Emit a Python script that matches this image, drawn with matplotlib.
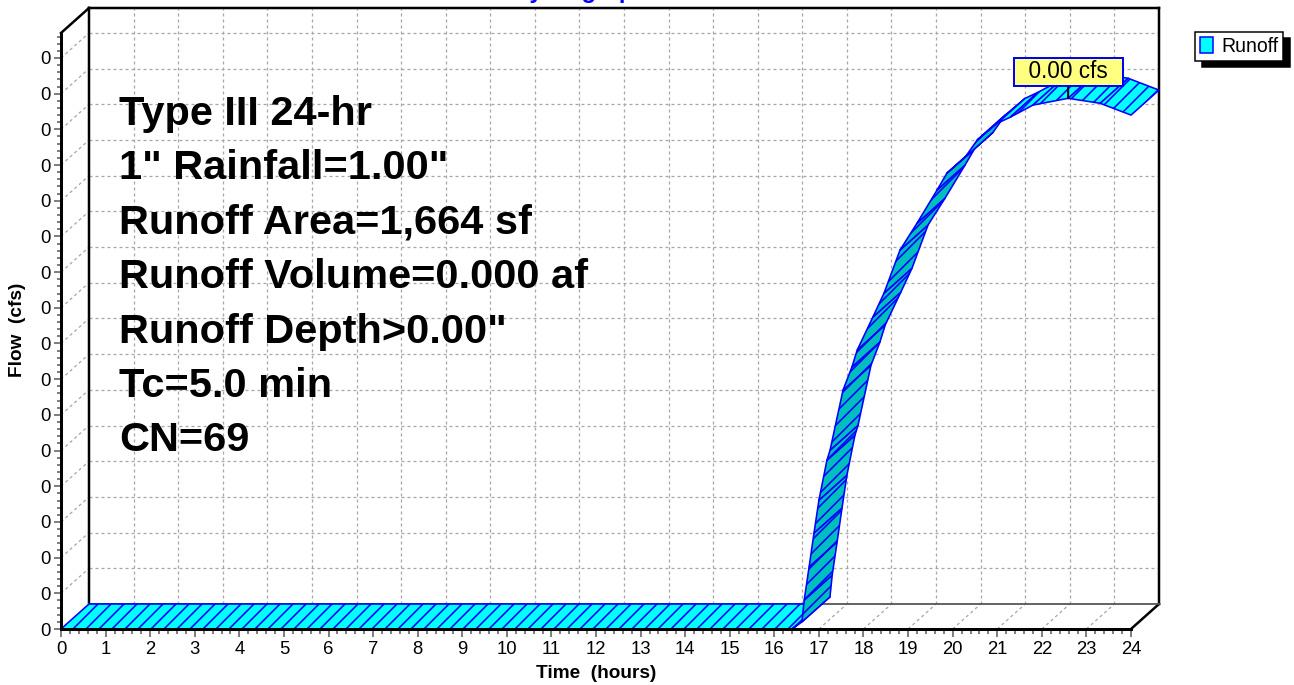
import matplotlib
matplotlib.use("Agg")
import matplotlib.pyplot as plt
from matplotlib.patches import Polygon, Patch
from matplotlib.ticker import MultipleLocator, FuncFormatter

DPI = 78
W, H = 1294, 685


def pt(px):
    # pixel size -> points at this dpi
    return px * 72.0 / DPI


plt.rcParams["font.family"] = ["Liberation Sans", "DejaVu Sans"]
plt.rcParams["hatch.linewidth"] = pt(1.6)
plt.rcParams["lines.scale_dashes"] = False

# Runoff hydrograph (front edge of the ribbon)
time_hr = [0.0, 16.40, 16.62, 16.67, 16.78, 16.89, 17.00, 17.18, 17.25, 17.54,
           17.74, 17.86, 18.21, 18.46, 18.82, 19.20, 19.65, 19.87, 20.28, 20.55,
           21.00, 21.29, 21.80, 22.59, 23.31, 24.00]
flow_cfs = [0.0, 0.0, 0.20e-5, 0.81e-5, 1.74e-5, 2.69e-5, 3.61e-5, 4.73e-5,
            5.01e-5, 6.69e-5, 7.34e-5, 7.82e-5, 8.74e-5, 9.41e-5, 10.62e-5,
            11.37e-5, 12.30e-5, 12.77e-5, 13.22e-5, 13.70e-5, 14.17e-5,
            14.34e-5, 14.68e-5, 14.87e-5, 14.73e-5, 14.40e-5]

x_ticks = list(range(0, 25))
y_ticks = [k * 1e-5 for k in range(0, 17)]
y_top = 16.7e-5

info_lines = [
    "Type III 24-hr",
    '1" Rainfall=1.00"',
    "Runoff Area=1,664 sf",
    "Runoff Volume=0.000 af",
    'Runoff Depth>0.00"',
    "Tc=5.0 min",
    "CN=69",
]

CYAN = "#00FFFF"
DARK = "#00BEBE"
BLUE = "#0000FF"
GRID = "#A8A8A8"

fig = plt.figure(figsize=(W / DPI, H / DPI), dpi=DPI)
ax = fig.add_axes([61 / W, (H - 629) / H, 1070 / W, 596 / H])
ax.set_xlim(0, 24)
ax.set_ylim(0, y_top)
ax.patch.set_alpha(0)

# depth offset of the pseudo 3d box (28 px right, 25 px up)
PXH = 1070 / 24
PXF = 596 / y_top
DX = 28 / PXH
DY = 25 / PXF

gkw = dict(color=GRID, lw=pt(1.3), clip_on=False, zorder=1, dashes=(pt(3), pt(3)))

# back wall grid
for t in x_ticks[1:-1]:
    ax.plot([t + DX, t + DX], [DY, y_top + DY], **gkw)
    ax.plot([t, t + DX], [0, DY], **gkw)  # floor
for v in y_ticks[1:]:
    ax.plot([DX, 24 + DX], [v + DY, v + DY], **gkw)
    ax.plot([0, DX], [v, v + DY], **gkw)  # left wall

# back box edges
bkw = dict(color="black", clip_on=False, zorder=2, solid_capstyle="projecting")
ax.plot([DX, 24 + DX], [y_top + DY, y_top + DY], lw=pt(2.5), **bkw)
ax.plot([DX, DX], [DY, y_top + DY], lw=pt(2.5), **bkw)
ax.plot([24 + DX, 24 + DX], [DY, y_top + DY], lw=pt(2.5), **bkw)
ax.plot([0, DX], [y_top, y_top + DY], lw=pt(2.5), **bkw)
ax.plot([24, 24 + DX], [0, DY], lw=pt(2.5), **bkw)
ax.plot([DX, 24 + DX], [DY, DY], color="#555555", lw=pt(1.8), clip_on=False, zorder=2)

# ribbon made of quads, darker where the underside faces us
for i in range(len(time_hr) - 1):
    t0, t1 = time_hr[i], time_hr[i + 1]
    f0, f1 = flow_cfs[i], flow_cfs[i + 1]
    sx, sy = (t1 - t0) * PXH, (f1 - f0) * PXF
    cross = sx * 25 - sy * 28
    quad = [(t0, f0), (t1, f1), (t1 + DX, f1 + DY), (t0 + DX, f0 + DY)]
    ax.add_patch(Polygon(quad, closed=True, facecolor=CYAN if cross >= 0 else DARK,
                         edgecolor=BLUE, lw=pt(1.6), hatch="//", clip_on=False,
                         zorder=3, joinstyle="round"))

# front axes
for side in ("top", "right"):
    ax.spines[side].set_visible(False)
for side in ("left", "bottom"):
    ax.spines[side].set_linewidth(pt(3))
    ax.spines[side].set_color("black")
    ax.spines[side].set_zorder(4)

ax.set_xticks(x_ticks)
ax.xaxis.set_minor_locator(MultipleLocator(0.2))
ax.set_yticks(y_ticks)
ax.yaxis.set_minor_locator(MultipleLocator(0.2e-5))
ax.yaxis.set_major_formatter(FuncFormatter(lambda v, p: f"{v:.0f}"))
ax.tick_params(which="both", direction="out", color="#808080", width=pt(2),
               labelsize=pt(18.5), pad=pt(3.5))
ax.tick_params(axis="x", which="major", length=pt(8))
ax.tick_params(axis="x", which="minor", length=pt(5))
ax.tick_params(axis="y", which="major", length=pt(7))
ax.tick_params(axis="y", which="minor", length=pt(4))

fig.text(596 / W, 1 - 673 / H, "Time  (hours)", ha="center", va="center",
         fontsize=pt(19), fontweight="bold")
fig.text(18 / W, 1 - 330 / H, "Flow  (cfs)", ha="center", va="center",
         rotation=90, fontsize=pt(19), fontweight="bold")
fig.text(580 / W, 1 + 2 / H, "Hydrograph", ha="center", va="baseline",
         fontsize=pt(24), fontweight="bold", color=BLUE)

for i, line in enumerate(info_lines):
    ax.text((119 - 61) / 1070, (629 - (125 + 54.4 * i)) / 596, line,
            transform=ax.transAxes, fontsize=pt(41.5), fontweight="bold",
            ha="left", va="baseline", zorder=5)

# peak callout
i_pk = flow_cfs.index(max(flow_cfs))
ax.annotate(f"  {flow_cfs[i_pk]:.2f} cfs  ", xy=(time_hr[i_pk], flow_cfs[i_pk]),
            xytext=(0, pt(26.5)), textcoords="offset points", ha="center",
            va="center", fontsize=pt(22.5), zorder=6, annotation_clip=False,
            bbox=dict(boxstyle="square,pad=0.1", fc="#FFFF80", ec=BLUE, lw=pt(2)),
            arrowprops=dict(arrowstyle="-", color="black", lw=pt(2),
                            shrinkA=0, shrinkB=0))

leg = ax.legend(handles=[Patch(facecolor=CYAN, edgecolor=BLUE, lw=pt(1.5), label="Runoff")],
                loc="upper left", bbox_to_anchor=(1195 / W, 1 - 32 / H),
                bbox_transform=fig.transFigure, fancybox=False,
                shadow={"ox": pt(7), "oy": -pt(6), "facecolor": "black",
                        "edgecolor": "black", "alpha": 1},
                edgecolor="black", framealpha=1, fontsize=pt(19.5),
                handlelength=0.65, handleheight=0.9, borderpad=0.25,
                handletextpad=0.45, borderaxespad=0)
leg.get_frame().set_linewidth(pt(1.5))

fig.savefig("out.png", dpi=DPI)
